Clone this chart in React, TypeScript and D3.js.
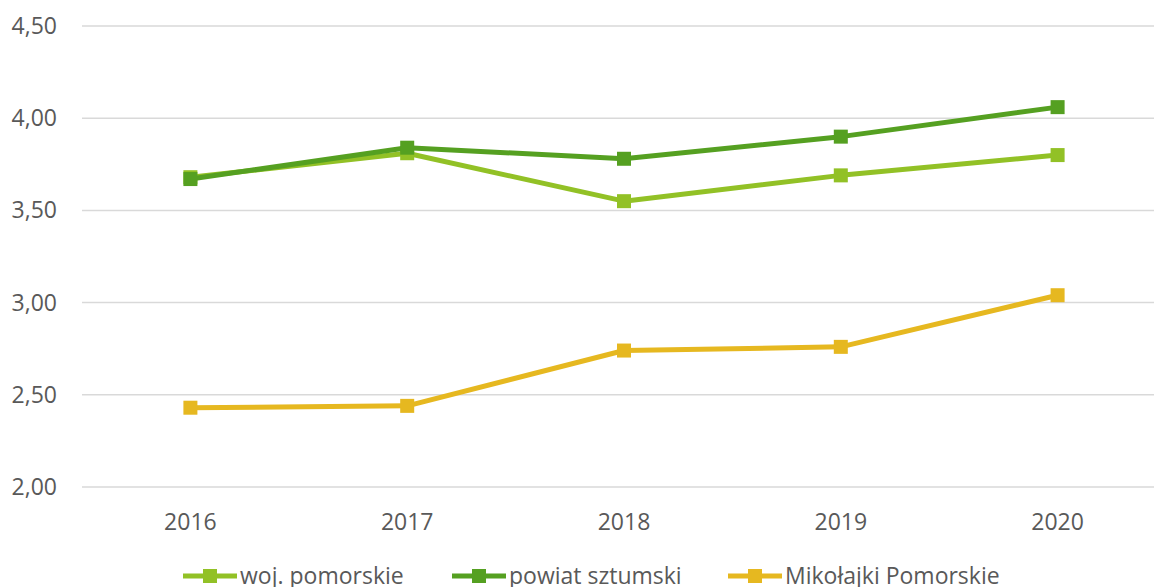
import React from "react";
import * as d3 from "d3";

const years = ["2016", "2017", "2018", "2019", "2020"];
const wojPomorskie = [3.68, 3.81, 3.55, 3.69, 3.8];
const powiatSztumski = [3.67, 3.84, 3.78, 3.9, 4.06];
const mikolajki = [2.43, 2.44, 2.74, 2.76, 3.04];
const yTicks = [2.0, 2.5, 3.0, 3.5, 4.0, 4.5];

const seriesNames = ["woj. pomorskie", "powiat sztumski", "Mikołajki Pomorskie"];
const seriesColors = ["#92C126", "#55A021", "#E6B820"];
const seriesValues = [wojPomorskie, powiatSztumski, mikolajki];

const W = 1154;
const H = 587;
const FONT = "'Open Sans', sans-serif";

export default function App() {
  const x = d3.scalePoint<string>().domain(years).range([82, 1166]).padding(0.5);
  const y = d3.scaleLinear().domain([2, 4.5]).range([487, 26]);
  const line = d3
    .line<number>()
    .x((_, i) => x(years[i]) as number)
    .y((d) => y(d));

  const legendX = [183, 452, 728];
  const legendY = 576;

  return (
    <svg
      width={W}
      height={H}
      style={{ position: "absolute", left: 0, top: 0, background: "#fff" }}
    >
      {yTicks.map((t) => (
        <g key={t}>
          <line x1={82} x2={W} y1={y(t)} y2={y(t)} stroke="#d9d9d9" strokeWidth={1.5} />
          <text
            x={57}
            y={y(t)}
            dy="0.35em"
            textAnchor="end"
            fontFamily={FONT}
            fontSize={23}
            fill="#595959"
          >
            {t.toFixed(2).replace(".", ",")}
          </text>
        </g>
      ))}
      {years.map((yr) => (
        <text
          key={yr}
          x={x(yr)}
          y={522}
          dy="0.35em"
          textAnchor="middle"
          fontFamily={FONT}
          fontSize={23}
          fill="#595959"
        >
          {yr}
        </text>
      ))}
      {seriesValues.map((vals, si) => (
        <g key={si}>
          <path d={line(vals) || ""} fill="none" stroke={seriesColors[si]} strokeWidth={5} strokeLinejoin="round" />
          {vals.map((v, i) => (
            <rect
              key={i}
              x={(x(years[i]) as number) - 7}
              y={y(v) - 7}
              width={14}
              height={14}
              fill={seriesColors[si]}
            />
          ))}
        </g>
      ))}
      {seriesNames.map((name, si) => (
        <g key={name}>
          <line
            x1={legendX[si]}
            x2={legendX[si] + 54}
            y1={legendY}
            y2={legendY}
            stroke={seriesColors[si]}
            strokeWidth={5}
          />
          <rect x={legendX[si] + 20} y={legendY - 7} width={14} height={14} fill={seriesColors[si]} />
          <text
            x={legendX[si] + 57}
            y={legendY}
            dy="0.35em"
            fontFamily={FONT}
            fontSize={23}
            fill="#595959"
          >
            {name}
          </text>
        </g>
      ))}
    </svg>
  );
}
